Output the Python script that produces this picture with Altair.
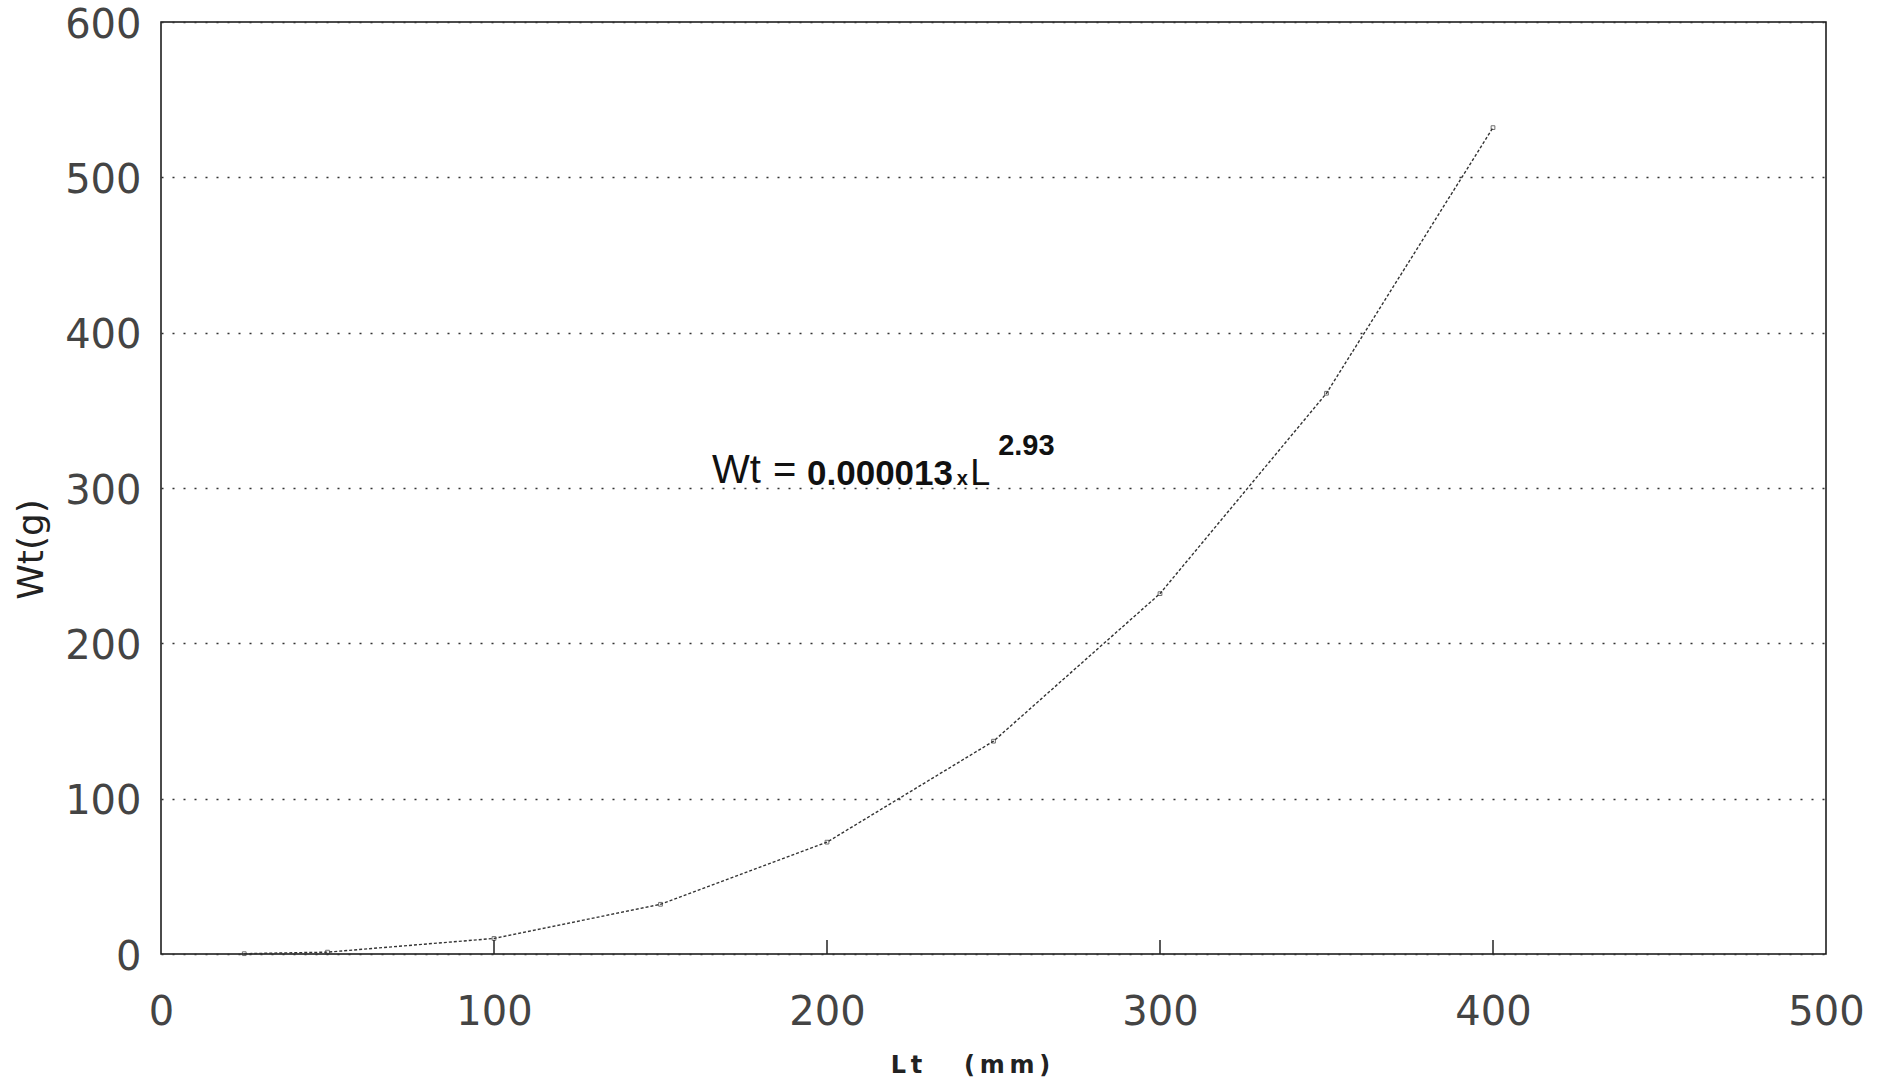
import altair as alt
import pandas as pd

# Data
length_mm = [25, 50, 100, 150, 200, 250, 300, 350, 400]
weight_g = [0.2, 1.2, 10, 32, 72, 137, 232, 361, 532]
x_tick_values = [0, 100, 200, 300, 400, 500]
y_tick_values = [0, 100, 200, 300, 400, 500, 600]
inner_tick_values = [100, 200, 300, 400]

# Equation annotation pieces (text, anchor in data units)
eq_text = ["Wt", "=", "0.000013", "x", "L", "2.93"]
eq_x = [165.5, 183.8, 194.0, 239.0, 243.0, 251.4]
eq_y = [303, 303, 302, 302, 302, 321]

W, H = 1665, 932
FONT = "DejaVu Sans"
EQFONT = "Liberation Sans"
NB = "\u00a0"
TS = "\u2009"

df = pd.DataFrame({"Lt": length_mm, "Wt": weight_g})

xscale = alt.Scale(domain=[0, 500], nice=False, zero=False)
yscale = alt.Scale(domain=[0, 600], nice=False, zero=False)

x_title = "L" + TS + "t" + NB * 5 + "(" + TS + "m" + TS + "m" + TS + ")"

xaxis = alt.Axis(
    values=x_tick_values, title=x_title, grid=False, ticks=False, domain=False,
    labelFont=FONT, labelFontSize=40, labelColor="#444", labelPadding=58,
    labelBaseline="middle", labelFlush=False,
    titleFont=FONT, titleFontSize=24, titleFontWeight="bold", titleColor="#222",
    titleX=809, titleY=111, titleBaseline="middle", titleAlign="center",
)
yaxis = alt.Axis(
    values=y_tick_values, title="Wt(g)", grid=True, gridDash=[2, 9], gridColor="#333",
    gridWidth=1.5, ticks=False, domain=False,
    labelFont=FONT, labelFontSize=40, labelColor="#444", labelPadding=20,
    labelBaseline="middle", labelFlush=False, labelOffset=3,
    titleFont=FONT, titleFontSize=36, titleFontWeight="normal", titleColor="#222",
    titleX=-130, titleY=527, titleAngle=270, titleBaseline="middle", titleAlign="center",
)

line = alt.Chart(df).mark_line(color="#333", strokeWidth=1.4, strokeDash=[3, 2]).encode(
    x=alt.X("Lt:Q", scale=xscale, axis=xaxis),
    y=alt.Y("Wt:Q", scale=yscale, axis=yaxis),
)
pts = alt.Chart(df).mark_point(shape="square", size=14, color="#333", strokeWidth=1).encode(
    x=alt.X("Lt:Q", scale=xscale), y=alt.Y("Wt:Q", scale=yscale)
)

ticks = alt.Chart(pd.DataFrame({"t": inner_tick_values})).mark_rule(
    color="#222", strokeWidth=1.5
).encode(x=alt.X("t:Q", scale=xscale), y=alt.value(H), y2=alt.value(H - 14))

def eq_piece(i, size, weight="normal"):
    d = pd.DataFrame({"x": [eq_x[i]], "y": [eq_y[i]], "t": [eq_text[i]]})
    return alt.Chart(d).mark_text(
        font=EQFONT, fontSize=size, fontWeight=weight, color="#111",
        align="left", baseline="alphabetic",
    ).encode(x=alt.X("x:Q", scale=xscale), y=alt.Y("y:Q", scale=yscale), text="t:N")

eq = (eq_piece(0, 40) + eq_piece(1, 40) + eq_piece(2, 35, "bold") +
      eq_piece(3, 20, "bold") + eq_piece(4, 36) + eq_piece(5, 29, "bold"))

chart = (line + pts + ticks + eq).properties(
    width=W, height=H,
    autosize=alt.AutoSizeParams(type="none"),
    padding={"left": 161, "top": 22, "right": 68, "bottom": 126},
    background="white",
).configure_view(stroke="#111", strokeWidth=1.5)

chart.save("out.html", embed_options={"renderer": "svg", "actions": False})
